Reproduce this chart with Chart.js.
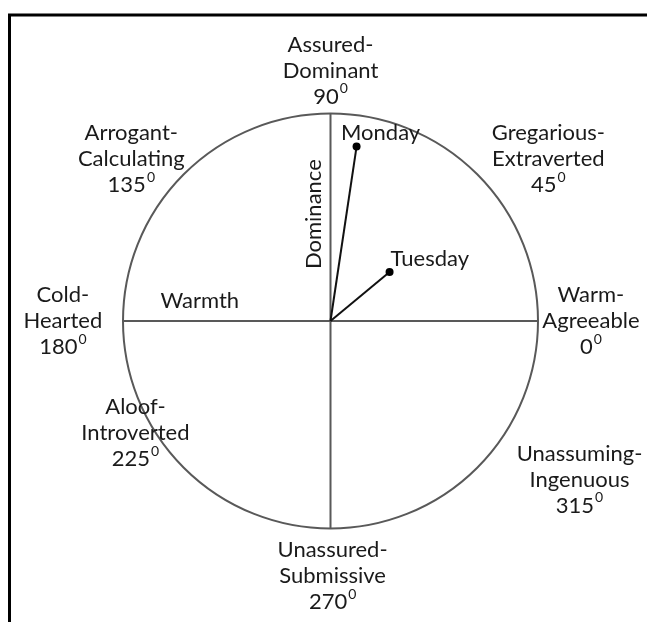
<!DOCTYPE html>
<html><head><meta charset="utf-8">
<script src="https://cdn.jsdelivr.net/npm/chart.js@4/dist/chart.umd.min.js"></script>
<style>html,body{margin:0;padding:0;background:#fff;overflow:hidden}</style>
</head><body>
<canvas id="c" width="647" height="622"></canvas>
<script>
// ---- data ----
const days = ['Monday', 'Tuesday'];
const dayAngles = [81.5, 39.7];        // degrees on the circumplex
const dayMagnitudes = [0.85, 0.37];    // fraction of circle radius
const octantAngles = [0, 45, 90, 135, 180, 225, 270, 315];
const octantNames = [
  ['Warm-', 'Agreeable'], ['Gregarious-', 'Extraverted'], ['Assured-', 'Dominant'],
  ['Arrogant-', 'Calculating'], ['Cold-', 'Hearted'], ['Aloof-', 'Introverted'],
  ['Unassured-', 'Submissive'], ['Unassuming-', 'Ingenuous']
];
const axisNames = ['Warmth', 'Dominance'];

// ---- layout (data units, radius = 1) ----
const octantLabelAnchors = [[1.255, 0], [1.05, 0.78], [0.0, 1.205], [-0.96, 0.78],
  [-1.29, 0], [-0.94, -0.54], [0.01, -1.23], [1.2, -0.765]];
const axisLabelAnchors = [[-0.63, 0.097], [-0.08, 0.515]];
const dayLabelOffsets = [[24, -14, 'center'], [1, -13, 'left']];

const FONT = 'Lato, "Open Sans", sans-serif';
const FS = 22;
const TEXT = '#1a1a1a';
const LINE_H = 26;

const rad = a => a * Math.PI / 180;
const datasets = days.map((d, i) => ({
  label: d,
  data: [{x: 0, y: 0}, {x: dayMagnitudes[i] * Math.cos(rad(dayAngles[i])), y: dayMagnitudes[i] * Math.sin(rad(dayAngles[i]))}],
  showLine: true,
  borderColor: '#111',
  backgroundColor: '#000',
  borderWidth: 2,
  pointRadius: [0, 4],
  pointHoverRadius: [0, 4],
  pointBorderWidth: 0
}));

function degText(ctx, deg, cx, cy) {
  const main = String(deg);
  ctx.font = FS + 'px ' + FONT;
  const w1 = ctx.measureText(main).width;
  ctx.font = '14px ' + FONT;
  const w2 = ctx.measureText('0').width;
  const x0 = cx - (w1 + w2 + 1) / 2;
  ctx.textAlign = 'left';
  ctx.font = FS + 'px ' + FONT;
  ctx.fillText(main, x0, cy);
  ctx.font = '14px ' + FONT;
  ctx.fillText('0', x0 + w1 + 1, cy - 8);
}

const circumplex = {
  id: 'circumplex',
  beforeDraw(chart) {
    const ctx = chart.ctx, sx = chart.scales.x, sy = chart.scales.y;
    ctx.save();
    ctx.fillStyle = '#fff';
    ctx.fillRect(0, 0, chart.width, chart.height);
    ctx.strokeStyle = '#000';
    ctx.lineWidth = 3;
    ctx.beginPath();
    ctx.moveTo(647, 15); ctx.lineTo(9.5, 15); ctx.lineTo(9.5, 622);
    ctx.stroke();
    const cx = sx.getPixelForValue(0), cy = sy.getPixelForValue(0);
    const r = sx.getPixelForValue(1) - cx;
    ctx.strokeStyle = '#595959';
    ctx.lineWidth = 2;
    ctx.beginPath();
    ctx.arc(cx, cy, r, 0, Math.PI * 2);
    ctx.stroke();
    ctx.beginPath();
    ctx.moveTo(sx.getPixelForValue(-1), cy); ctx.lineTo(sx.getPixelForValue(1), cy);
    ctx.moveTo(cx, sy.getPixelForValue(1)); ctx.lineTo(cx, sy.getPixelForValue(-1));
    ctx.stroke();
    ctx.restore();
  },
  afterDatasetsDraw(chart) {
    const ctx = chart.ctx, sx = chart.scales.x, sy = chart.scales.y;
    ctx.save();
    ctx.fillStyle = TEXT;
    ctx.textBaseline = 'middle';
    octantNames.forEach((lines, i) => {
      const px = sx.getPixelForValue(octantLabelAnchors[i][0]);
      const py = sy.getPixelForValue(octantLabelAnchors[i][1]);
      ctx.font = FS + 'px ' + FONT;
      ctx.textAlign = 'center';
      ctx.fillText(lines[0], px, py - LINE_H);
      ctx.fillText(lines[1], px, py);
      degText(ctx, octantAngles[i], px, py + LINE_H);
    });
    ctx.font = FS + 'px ' + FONT;
    ctx.textAlign = 'center';
    ctx.fillText(axisNames[0], sx.getPixelForValue(axisLabelAnchors[0][0]), sy.getPixelForValue(axisLabelAnchors[0][1]));
    ctx.save();
    ctx.translate(sx.getPixelForValue(axisLabelAnchors[1][0]), sy.getPixelForValue(axisLabelAnchors[1][1]));
    ctx.rotate(-Math.PI / 2);
    ctx.fillText(axisNames[1], 0, 0);
    ctx.restore();
    chart.data.datasets.forEach((ds, i) => {
      const pt = chart.getDatasetMeta(i).data[1];
      ctx.textAlign = dayLabelOffsets[i][2];
      ctx.fillText(days[i], pt.x + dayLabelOffsets[i][0], pt.y + dayLabelOffsets[i][1]);
    });
    ctx.restore();
  }
};

new Chart(document.getElementById('c'), {
  type: 'scatter',
  data: { datasets },
  options: {
    responsive: false,
    animation: false,
    events: [],
    layout: { padding: { left: 123, right: 109, top: 113.5, bottom: 93.5 } },
    scales: {
      x: { type: 'linear', min: -1, max: 1, display: false },
      y: { type: 'linear', min: -1, max: 1, display: false }
    },
    plugins: { legend: { display: false }, tooltip: { enabled: false } }
  },
  plugins: [circumplex]
});
</script>
</body></html>
